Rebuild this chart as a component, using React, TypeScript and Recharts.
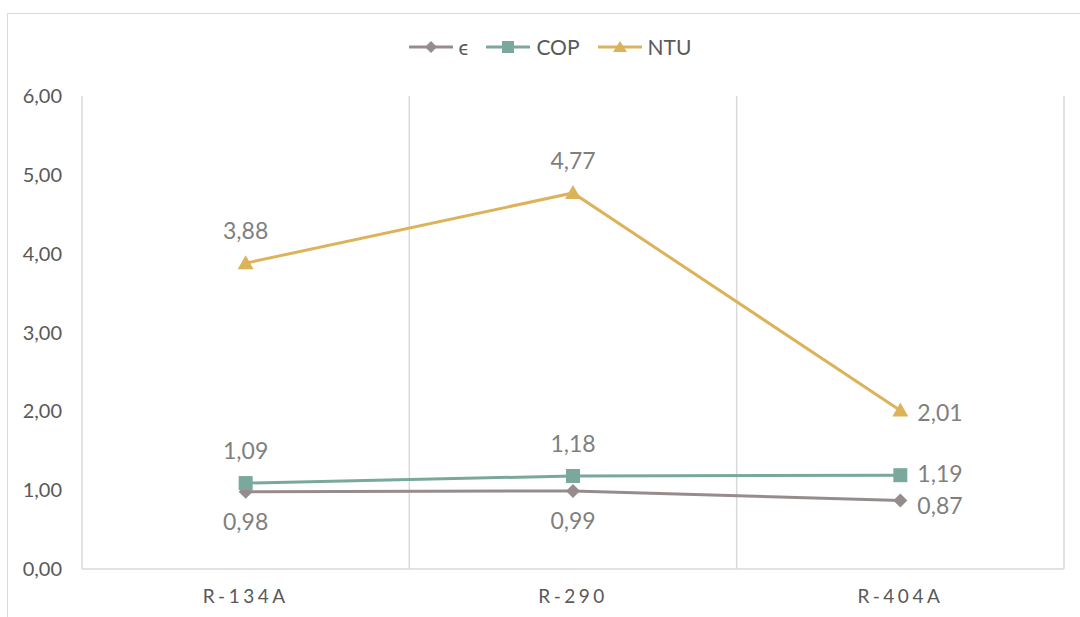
import { LineChart, Line, XAxis, YAxis, ReferenceLine, LabelList } from "recharts";

const categories = ["R-134A", "R-290", "R-404A"];
const epsilon = [0.98, 0.99, 0.87];
const cop = [1.09, 1.18, 1.19];
const ntu = [3.88, 4.77, 2.01];
const yTicks = [0, 1, 2, 3, 4, 5, 6];

const data = categories.map((name, i) => ({
  x: i + 0.5,
  name,
  eps: epsilon[i],
  cop: cop[i],
  ntu: ntu[i],
}));

const FONT = "Lato, 'Open Sans', sans-serif";
const EPS_COLOR = "#978c8c";
const COP_COLOR = "#7aa89c";
const NTU_COLOR = "#dcb35b";
const GRID = "#d9d9d9";

const fmt = (v: number) => v.toFixed(2).replace(".", ",");

const diamond = (color: string) => (p: any) => (
  <path
    key={`d-${p.index}`}
    d={`M${p.cx},${p.cy - 7}L${p.cx + 7},${p.cy}L${p.cx},${p.cy + 7}L${p.cx - 7},${p.cy}Z`}
    fill={color}
  />
);
const square = (color: string) => (p: any) => (
  <rect key={`s-${p.index}`} x={p.cx - 7} y={p.cy - 7} width={14} height={14} fill={color} />
);
const triangle = (color: string) => (p: any) => (
  <path
    key={`t-${p.index}`}
    d={`M${p.cx},${p.cy - 8}L${p.cx + 8},${p.cy + 6}L${p.cx - 8},${p.cy + 6}Z`}
    fill={color}
  />
);

// where each value label sits relative to its point, and a small vertical nudge
const makeLabel = (place: string[], nudge: number[] = [0, 0, 0]) => (p: any) => {
  const { x, y, value, index } = p;
  const where = place[index];
  let tx = x;
  let ty = y;
  let anchor: "middle" | "start" = "middle";
  if (where === "above") ty = y - 33;
  if (where === "below") ty = y + 29;
  if (where === "right") {
    tx = x + 17;
    anchor = "start";
  }
  ty += nudge[index];
  return (
    <text
      key={`l-${index}`}
      x={tx}
      y={ty}
      textAnchor={anchor}
      dominantBaseline="central"
      fontSize={23}
      fontFamily={FONT}
      fill="#7f7f7f"
    >
      {fmt(value)}
    </text>
  );
};

const legendItems = [
  { label: "ϵ", color: EPS_COLOR, marker: "diamond" },
  { label: "COP", color: COP_COLOR, marker: "square" },
  { label: "NTU", color: NTU_COLOR, marker: "triangle" },
];

function LegendIcon({ color, marker }: { color: string; marker: string }) {
  return (
    <svg width={44} height={16} style={{ display: "block" }}>
      <line x1={1} y1={8} x2={43} y2={8} stroke={color} strokeWidth={3} strokeLinecap="round" />
      {marker === "diamond" && <path d="M22,2L28,8L22,14L16,8Z" fill={color} />}
      {marker === "square" && <rect x={16} y={2} width={12} height={12} fill={color} />}
      {marker === "triangle" && <path d="M22,2L29,13L15,13Z" fill={color} />}
    </svg>
  );
}

export default function App() {
  return (
    <div
      style={{
        position: "absolute",
        left: 0,
        top: 0,
        width: 1080,
        height: 617,
        background: "#fff",
        overflow: "hidden",
      }}
    >
      <div
        style={{
          position: "absolute",
          left: 7,
          top: 13,
          width: 1090,
          height: 620,
          border: `1px solid ${GRID}`,
        }}
      />
      <div
        style={{
          position: "absolute",
          top: 34,
          left: 0,
          width: 1100,
          display: "flex",
          justifyContent: "center",
          gap: 18,
          fontFamily: FONT,
          fontSize: 21,
          color: "#595959",
        }}
      >
        {legendItems.map((it) => (
          <div key={it.label} style={{ display: "flex", alignItems: "center", gap: 6 }}>
            <LegendIcon color={it.color} marker={it.marker} />
            <span>{it.label}</span>
          </div>
        ))}
      </div>
      <div style={{ position: "absolute", left: 0, top: 0 }}>
        <LineChart
          width={1080}
          height={617}
          data={data}
          margin={{ top: 96, right: 16, bottom: 0, left: 0 }}
        >
          <XAxis
            type="number"
            dataKey="x"
            domain={[0, 3]}
            ticks={[0.5, 1.5, 2.5]}
            tickFormatter={(v: number) => categories[Math.floor(v)]}
            height={48}
            tickLine={false}
            tickSize={0}
            tickMargin={21}
            axisLine={{ stroke: GRID, strokeWidth: 1.5 }}
            tick={{ fill: "#595959", fontSize: 19, fontFamily: FONT, letterSpacing: 3.5 }}
          />
          <YAxis
            domain={[0, 6]}
            ticks={yTicks}
            tickFormatter={fmt}
            width={82}
            axisLine={false}
            tickLine={false}
            tickSize={0}
            tickMargin={20}
            tick={{ fill: "#595959", fontSize: 20, fontFamily: FONT }}
          />
          {[0, 1, 2, 3].map((v) => (
            <ReferenceLine key={v} x={v} stroke={GRID} strokeWidth={1.5} />
          ))}
          <Line
            dataKey="eps"
            stroke={EPS_COLOR}
            strokeWidth={3}
            dot={diamond(EPS_COLOR)}
            isAnimationActive={false}
          >
            <LabelList dataKey="eps" content={makeLabel(["below", "below", "right"], [0, 0, 5])} />
          </Line>
          <Line
            dataKey="cop"
            stroke={COP_COLOR}
            strokeWidth={3}
            dot={square(COP_COLOR)}
            isAnimationActive={false}
          >
            <LabelList dataKey="cop" content={makeLabel(["above", "above", "right"], [0, 0, -2])} />
          </Line>
          <Line
            dataKey="ntu"
            stroke={NTU_COLOR}
            strokeWidth={3}
            dot={triangle(NTU_COLOR)}
            isAnimationActive={false}
          >
            <LabelList dataKey="ntu" content={makeLabel(["above", "above", "right"], [0, 0, 1])} />
          </Line>
        </LineChart>
      </div>
    </div>
  );
}
